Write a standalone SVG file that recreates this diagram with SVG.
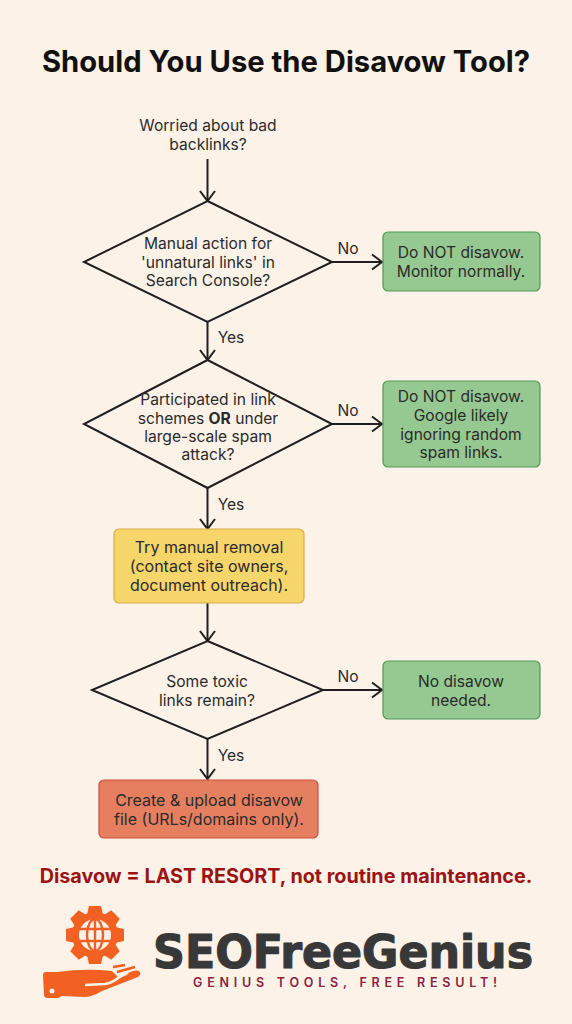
<svg xmlns="http://www.w3.org/2000/svg" width="572" height="1024" viewBox="0 0 572 1024">
<style>
text{font-family:Inter,"Liberation Sans",sans-serif;fill:#2b2b2b;text-anchor:middle;font-size:15.6px}
.d{fill:#fcf2e8;stroke:#1f1f1f;stroke-width:2}
.c{fill:none;stroke:#1f1f1f;stroke-width:2;marker-end:url(#a)}
.r{stroke-width:1.200}
.gr{fill:#96c891;stroke:#4f9a58}
.b{font-size:16px}
</style>
<defs><marker id="a" markerUnits="userSpaceOnUse" markerWidth="14" markerHeight="18" refX="12" refY="9" orient="auto"><path d="M2 1.500L12 9L2 16.500" fill="none" stroke="#1f1f1f" stroke-width="2"/></marker></defs>
<rect width="572" height="1024" fill="#fcf2e8"/>
<text id="title" x="286" y="72" style="font-size:29.200px;font-weight:700;fill:#111">Should You Use the Disavow Tool?</text>
<g id="connectors">
<path class="c" d="M207.500 159V201"/>
<path class="c" d="M207.500 322V360"/>
<path class="c" d="M207.500 488V529"/>
<path class="c" d="M207.500 603V641"/>
<path class="c" d="M207.500 739V779"/>
<path class="c" d="M332 262H382"/>
<path class="c" d="M332 424H382"/>
<path class="c" d="M323 690H382"/>
<text x="348" y="254">No</text><text x="348" y="416">No</text><text x="348" y="682">No</text>
<text x="231" y="343">Yes</text><text x="231" y="510">Yes</text><text x="231" y="761">Yes</text>
</g>
<g id="start"><text x="208" y="131">Worried about bad</text><text x="208" y="150">backlinks?</text></g>
<g id="q1"><path class="d" d="M207.500 201L332 262L207.500 322L84 262Z"/><text x="208" y="249">Manual action for</text><text x="208" y="268">'unnatural links' in</text><text x="208" y="286">Search Console?</text></g>
<g id="q2"><path class="d" d="M207.500 360L332 424L207.500 488L84 424Z"/><text x="208" y="405">Participated in link</text><text x="208" y="424">schemes <tspan font-weight="700">OR</tspan> under</text><text x="208" y="442">large-scale spam</text><text x="208" y="460">attack?</text></g>
<g id="q3"><path class="d" d="M207.500 641L323 690L207.500 739L92 690Z"/><text x="207" y="687">Some toxic</text><text x="207" y="706">links remain?</text></g>
<g id="g1"><rect class="r gr" x="383" y="232" width="157" height="59" rx="5"/><text x="461" y="258">Do NOT disavow.</text><text x="461" y="277">Monitor normally.</text></g>
<g id="g2"><rect class="r gr" x="383" y="381" width="157" height="86" rx="5"/><text x="461" y="402">Do NOT disavow.</text><text x="461" y="421">Google likely</text><text x="461" y="440">ignoring random</text><text x="461" y="458">spam links.</text></g>
<g id="g3"><rect class="r gr" x="383" y="661" width="157" height="58" rx="5"/><text x="461" y="687">No disavow</text><text x="461" y="706">needed.</text></g>
<g id="manual"><rect class="r" x="114" y="529" width="190" height="74" rx="5" fill="#f6d56b" stroke="#d9ad45"/><text class="b" x="209" y="553">Try manual removal</text><text class="b" x="209" y="572">(contact site owners,</text><text class="b" x="209" y="591">document outreach).</text></g>
<g id="upload"><rect class="r" x="99" y="780" width="219" height="58" rx="5" fill="#e67f60" stroke="#c9503a"/><text class="b" x="209" y="806">Create &amp; upload disavow</text><text class="b" x="209" y="825">file (URLs/domains only).</text></g>
<text id="note" x="286" y="883" style="font-size:19.800px;font-weight:700;fill:#9b1414">Disavow = LAST RESORT, not routine maintenance.</text>
<g id="logo">
<g fill="#f26122">
<circle cx="95" cy="935" r="23"/>
<path d="M89 906h12l2 9h-16z"/><path d="M89 906h12l2 9h-16z" transform="rotate(45 95 935)"/><path d="M89 906h12l2 9h-16z" transform="rotate(90 95 935)"/><path d="M89 906h12l2 9h-16z" transform="rotate(135 95 935)"/><path d="M89 906h12l2 9h-16z" transform="rotate(180 95 935)"/><path d="M89 906h12l2 9h-16z" transform="rotate(225 95 935)"/><path d="M89 906h12l2 9h-16z" transform="rotate(270 95 935)"/><path d="M89 906h12l2 9h-16z" transform="rotate(315 95 935)"/>
<path d="M46 972Q43 972 43 975L44 995Q44 998 48 998L58 998L62 996L84 997Q92 997 102 991L138 977Q142 974 139 971Q137 970 133 971L118 977L112 971Q85 968 57 972Z"/>
</g>
<circle cx="95" cy="935" r="16" fill="#fcf2e8"/>
<g fill="none" stroke="#f26122" stroke-width="2.400"><ellipse cx="95" cy="935" rx="8" ry="16"/><path d="M95 919v32M79 929h32M79 941h32"/></g>
<circle cx="52" cy="991" r="2.500" fill="#fcf2e8"/>
<path d="M85 985L105 984Q112 983 118 978L128 973" stroke="#fcf2e8" stroke-width="2.400" fill="none"/>
<path d="M113 967L125 965M117 972L135 967" stroke="#f26122" stroke-width="2.500" fill="none"/>
<text id="brand" x="153" y="968" textLength="380" lengthAdjust="spacingAndGlyphs" style="font-family:'DejaVu Sans',sans-serif;font-size:47px;font-weight:700;fill:#383838;stroke:#383838;stroke-width:1.200;stroke-linejoin:round;text-anchor:start">SEOFreeGenius</text>
<text x="193" y="987" textLength="304" style="font-size:12.500px;font-weight:600;fill:#8a2440;text-anchor:start">GENIUS TOOLS, FREE RESULT!</text>
</g>
</svg>
